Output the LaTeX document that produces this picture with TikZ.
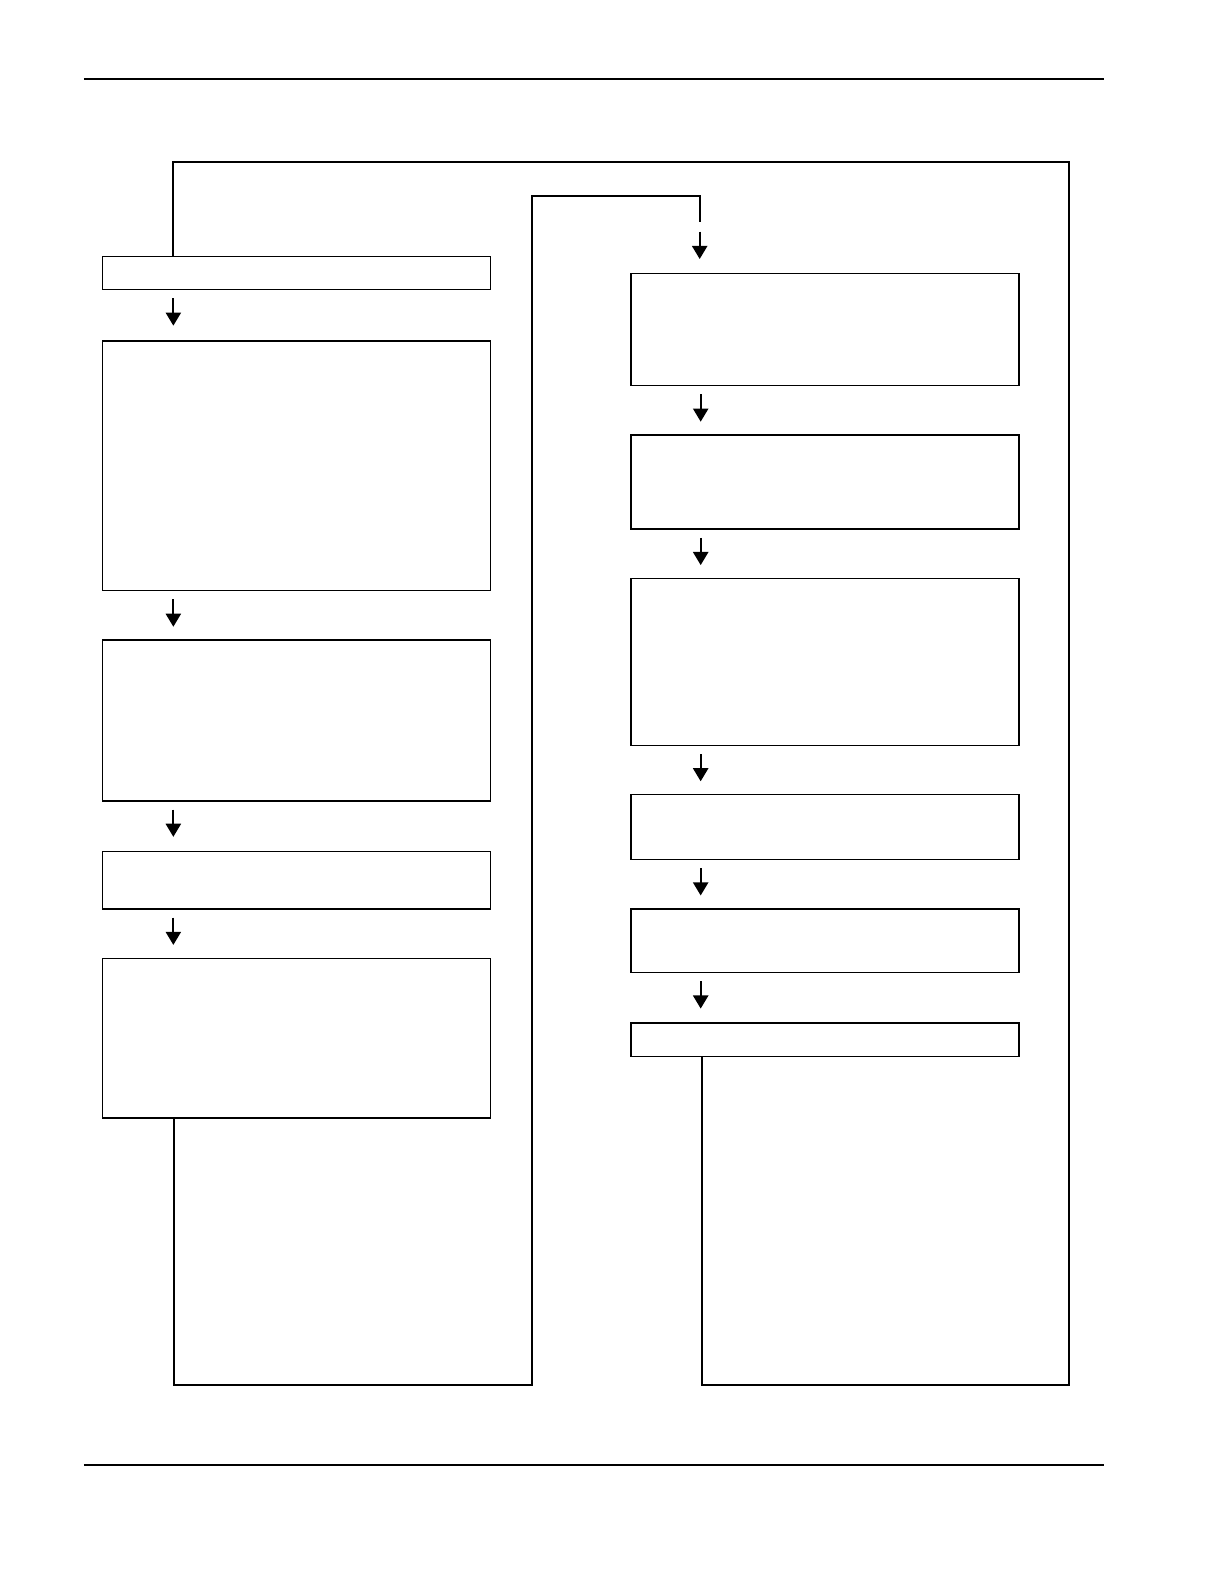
\documentclass[tikz,border=0pt]{standalone}
\usepackage{tikz}
\usetikzlibrary{arrows.meta}

\begin{document}
\begin{tikzpicture}[x=0.5pt,y=-0.5pt]
	\tikzset{
		box/.style={draw, rectangle, anchor=north west, inner sep=0pt, line width=0.7pt, minimum width=192pt},
		conn/.style={line width=1pt},
		arr/.style={line width=1pt, -{Triangle[width=7.5pt,length=6.5pt]}}
	}
	\def\w{1212}	%page width
	\def\h{1568}	%page height
	\useasboundingbox (0,0) rectangle (\w,\h);
	
	%RULES
	\draw[line width=1pt] (83,78)--(1093,78);
	\draw[line width=1pt] (83,1450)--(1093,1450);
	
	%LEFT COLUMN
	\foreach \n/\y/\hh in {l1/253/33, l2/337/247, l3/633/159, l4/842/57, l5/948/158}{
		\node[box, minimum height=\hh*0.5pt] (\n) at (101,\y) {};
	}
	%RIGHT COLUMN
	\foreach \n/\y/\hh in {r1/270/111, r2/430/93, r3/572/165, r4/786/64, r5/899/63, r6/1012/33}{
		\node[box, minimum height=\hh*0.5pt] (\n) at (624,\y) {};
	}
	
	%ARROWS
	\foreach \a in {l1,l2,l3,l4}{
		\draw[arr] ([xshift=35.3pt,yshift=-4pt]\a.south west)--++(0,27);
	}
	\foreach \a in {r1,r2,r3,r4,r5}{
		\draw[arr] ([xshift=34.8pt,yshift=-4pt]\a.south west)--++(0,27);
	}
	\draw[arr] ([xshift=34.3pt,yshift=20.3pt]r1.north west)--++(0,27);
	
	%LOOPS
	\coordinate (tr) at (1058,160);
	\coordinate (br) at (1058,1371);
	\coordinate (bl) at (527,1371);
	\coordinate (tl) at (527,194);
	\coordinate (gap) at (693,220);
	\draw[conn] ([xshift=35.3pt]l1.north west) |- (tr) -- (br) -| ([xshift=35.3pt]r6.south west);
	\draw[conn] ([xshift=35.8pt]l5.south west) |- (bl) -- (tl) -| (gap);
\end{tikzpicture}
\end{document}
